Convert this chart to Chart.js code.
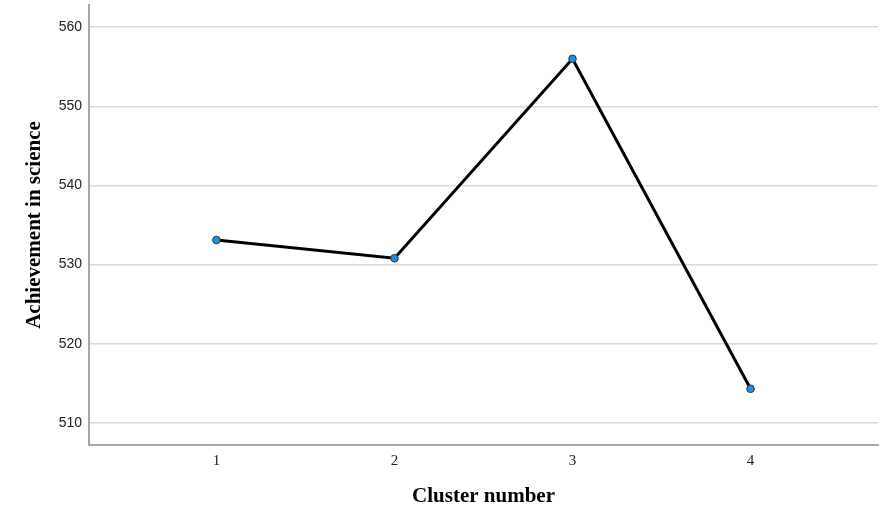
<!DOCTYPE html>
<html lang="en">
<head>
  <meta charset="UTF-8" />
  <title>Achievement in science by cluster</title>
  <script src="https://cdn.jsdelivr.net/npm/chart.js"></script>
  <style>
    body { margin: 0; background: #fff; }
    .wrap { width: 883px; height: 517px; }
  </style>
</head>
<body>
  <div class="wrap"><canvas id="chart" width="883" height="517"></canvas></div>
  <script>
    const clusters = [1, 2, 3, 4];
    const science = [533.1, 530.8, 556.0, 514.3];
    const yTicks = [510, 520, 530, 540, 550, 560];

    new Chart(document.getElementById('chart'), {
      type: 'line',
      data: {
        datasets: [{
          data: clusters.map((c, i) => ({ x: c, y: science[i] })),
          borderColor: '#000',
          borderWidth: 3,
          pointRadius: 3.8,
          pointBackgroundColor: '#1f8ee0',
          pointBorderColor: '#1d3550',
          pointBorderWidth: 1,
          tension: 0
        }]
      },
      options: {
        responsive: false,
        animation: false,
        layout: { padding: { top: 2, right: 0, left: 0, bottom: 0 } },
        plugins: { legend: { display: false }, tooltip: { enabled: false } },
        scales: {
          x: {
            type: 'linear',
            min: 0.284, max: 4.716,
            afterBuildTicks: s => { s.ticks = clusters.map(v => ({ value: v })); },
            // fixed box, no extra label padding
            afterFit: s => { s.height = 72; s.paddingLeft = 0; s.paddingRight = 0; },
            grid: { display: false, drawTicks: false },
            border: { color: '#a6a6a6', width: 2 },
            ticks: { padding: 7, color: '#222', font: { family: 'Liberation Serif', size: 15 } },
            title: {
              display: true, text: 'Cluster number', color: '#000',
              font: { family: 'Liberation Serif', size: 21, weight: 'bold' },
              padding: { top: 0, bottom: 8 }
            }
          },
          y: {
            min: 507.2, max: 562.8,
            afterBuildTicks: s => { s.ticks = yTicks.map(v => ({ value: v })); },
            afterFit: s => { s.width = 89; s.paddingTop = 0; s.paddingBottom = 0; },
            grid: { color: '#d9d9d9', lineWidth: 1.5, drawTicks: false },
            border: { color: '#a6a6a6', width: 2 },
            ticks: { padding: 7, color: '#222', font: { family: 'Liberation Sans', size: 14 } },
            title: {
              display: true, text: 'Achievement in science', color: '#000',
              font: { family: 'Liberation Serif', size: 21, weight: 'bold' },
              padding: { top: 22, bottom: 0 }
            }
          }
        }
      }
    });
  </script>
</body>
</html>
